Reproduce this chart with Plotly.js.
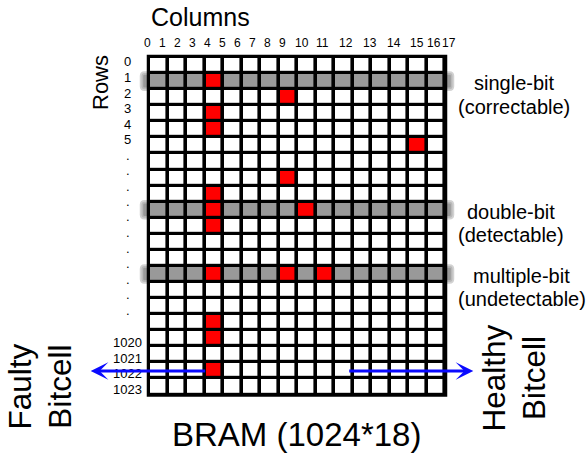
<!DOCTYPE html>
<html><head><meta charset="utf-8">
<script src="https://cdn.plot.ly/plotly-3.0.1.min.js"></script>
<style>html,body{margin:0;padding:0;background:#fff;}#chart{width:586px;height:456px;}</style>
</head><body><div id="chart"></div>
<script>
// ---------------- data ----------------
const nCols = 16;
const colLabels = ['0','1','2','3','4','5','6','7','8','9','10','11','12','13','14','15','16','17'];
const rowLabels = ['0','1','2','3','4','5','.','.','.','.','.','.','.','.','.','.','.','1020','1021','1022','1023'];
const faultyRow = [1, 2, 3, 4, 5, 7, 8, 9, 9, 10, 13, 13, 13, 16, 17, 19];
const faultyCol = [3, 7, 3, 3, 14, 7, 3, 3, 8, 3, 3, 7, 9, 3, 3, 3];
const errorRows = [1, 9, 13];
const errorLine1 = ['single-bit', 'double-bit', 'multiple-bit'];
const errorLine2 = ['(correctable)', '(detectable)', '(undetectable)'];
const gridTitle = 'BRAM (1024*18)';
const colTitle = 'Columns';
const rowTitle = 'Rows';
const faultyText = 'Faulty<br>Bitcell';
const healthyText = 'Healthy<br>Bitcell';

// ---------------- build matrix ----------------
const nRows = rowLabels.length;
const z = [];
for (let r = 0; r < nRows; r++) {
  const row = [];
  for (let c = 0; c < nCols; c++) row.push(errorRows.includes(r) ? 1 : 0);
  z.push(row);
}
faultyRow.forEach((r, i) => { z[r][faultyCol[i]] = 2; });
const xs = Array.from({length: nCols}, (_, i) => i);
const ys = Array.from({length: nRows}, (_, i) => i);

// ---------------- geometry (pixels) ----------------
const W = 586, H = 456;
const GX0 = 149, GX1 = 445, GY0 = 57, GY1 = 394.5;     // grid outer line centres
const L = 138, R = 458, T = 50, B = 400;               // plot area
const CW = (GX1 - GX0) / nCols, RH = (GY1 - GY0) / nRows;
const xr = [(L - GX0) / CW - 0.5, (R - GX0) / CW - 0.5];
const yr = [(B - GY0) / RH - 0.5, (T - GY0) / RH - 0.5];
const px = v => (v - L) / (R - L);
const py = v => (B - v) / (B - T);
const rowPx = r => GY0 + (r + 0.5) * RH;

const FONT = 'Liberation Sans, Arial, Helvetica, sans-serif';
const annotations = [];

// column labels
const colLabelX = [147.5,162.3,177.3,192.3,207.3,222.3,237.3,252.3,267.3,282.7,302,322.5,346,369.5,394,417,433.5,449];
colLabels.forEach((t, i) => annotations.push({
  xref: 'paper', yref: 'paper', x: px(colLabelX[i]), y: py(42.5), text: t, showarrow: false,
  xanchor: 'center', yanchor: 'middle', font: {family: FONT, size: 12, color: '#000'}
}));
// row labels
rowLabels.forEach((t, k) => {
  const yy = k <= 16 ? 62 + 15.5 * k : 342.7 + 15.55 * (k - 17);
  annotations.push({
    xref: 'paper', yref: 'paper', x: px(127.5), y: py(yy), text: t, showarrow: false,
    xanchor: 'center', yanchor: 'middle', font: {family: FONT, size: 13, color: '#000'}
  });
});
// titles
annotations.push({xref:'paper', yref:'paper', x: px(200.5), y: py(16.5), text: colTitle, showarrow:false,
  xanchor:'center', yanchor:'middle', font:{family:FONT, size:25, color:'#000'}});
annotations.push({xref:'paper', yref:'paper', x: px(100), y: py(83), text: rowTitle, showarrow:false, textangle:-90,
  xanchor:'center', yanchor:'middle', font:{family:FONT, size:22, color:'#000'}});
annotations.push({xref:'paper', yref:'paper', x: px(296), y: py(434), text: gridTitle, showarrow:false,
  xanchor:'center', yanchor:'middle', font:{family:FONT, size:33, color:'#000'}});
annotations.push({xref:'paper', yref:'paper', x: px(40), y: py(386.5), text: faultyText, showarrow:false, textangle:-90,
  xanchor:'center', yanchor:'middle', font:{family:FONT, size:31.5, color:'#000'}});
annotations.push({xref:'paper', yref:'paper', x: px(514), y: py(378.5), text: healthyText, showarrow:false, textangle:-90,
  xanchor:'center', yanchor:'middle', font:{family:FONT, size:31.5, color:'#000'}});
// error-type labels
const errCx = [514, 510.5, 521.5];
errorRows.forEach((r, i) => {
  const y1 = rowPx(r) + 2;
  annotations.push({xref:'paper', yref:'paper', x: px(errCx[i]), y: py(y1), text: errorLine1[i], showarrow:false,
    xanchor:'center', yanchor:'middle', font:{family:FONT, size:20, color:'#000'}});
  annotations.push({xref:'paper', yref:'paper', x: px(errCx[i]), y: py(y1 + 23.5), text: errorLine2[i], showarrow:false,
    xanchor:'center', yanchor:'middle', font:{family:FONT, size:20, color:'#000'}});
});
// arrows
const arrowY = 371;
annotations.push({xref:'paper', yref:'paper', x: px(90.7), y: py(arrowY), ax: 206.7 - 90.7, ay: 0, axref:'pixel', ayref:'pixel',
  text:'', showarrow:true, arrowhead:3, arrowsize:1.05, arrowwidth:2.8, arrowcolor:'#0a0aff'});
annotations.push({xref:'paper', yref:'paper', x: px(473.3), y: py(arrowY), ax: 347.7 - 473.3, ay: 0, axref:'pixel', ayref:'pixel',
  text:'', showarrow:true, arrowhead:3, arrowsize:1.05, arrowwidth:2.8, arrowcolor:'#0a0aff'});

// shapes: bands (below), black grid background
function roundRect(x0, x1, y0, y1, rx, ry) {
  return `M${x0+rx},${y0} L${x1-rx},${y0} Q${x1},${y0} ${x1},${y0+ry} L${x1},${y1-ry} Q${x1},${y1} ${x1-rx},${y1} ` +
         `L${x0+rx},${y1} Q${x0},${y1} ${x0},${y1-ry} L${x0},${y0+ry} Q${x0},${y0} ${x0+rx},${y0} Z`;
}
const shapes = [];
const ext = 7.5 / CW;
errorRows.forEach(r => {
  shapes.push({type:'path', layer:'below', xref:'x', yref:'y',
    path: roundRect(-0.5 - ext, nCols - 0.5 + ext, r - 0.5, r + 0.5, 3 / CW, 3 / RH),
    fillcolor:'#999999', line:{color:'rgba(195,195,195,0.75)', width:3.5}});
});
shapes.push({type:'rect', layer:'below', xref:'x', yref:'y', x0:-0.5, x1:nCols - 0.5, y0:-0.5, y1:nRows - 0.5,
  fillcolor:'#000', line:{color:'#000', width:4.5}});

const trace = {
  type:'heatmap', x: xs, y: ys, z: z, zmin: 0, zmax: 2, showscale:false, xgap:3.6, ygap:3.2, hoverinfo:'skip',
  colorscale: [[0,'#ffffff'],[0.33,'#ffffff'],[0.34,'#999999'],[0.66,'#999999'],[0.67,'#ff0000'],[1,'#ff0000']]
};

const layout = {
  width: W, height: H, margin: {l: L, r: W - R, t: T, b: H - B, pad: 0},
  paper_bgcolor:'#fff', plot_bgcolor:'#fff', showlegend:false,
  xaxis: {range: xr, visible:false, fixedrange:true},
  yaxis: {range: yr, visible:false, fixedrange:true},
  shapes: shapes, annotations: annotations
};
Plotly.newPlot('chart', [trace], layout, {staticPlot:true, displayModeBar:false});
</script></body></html>
